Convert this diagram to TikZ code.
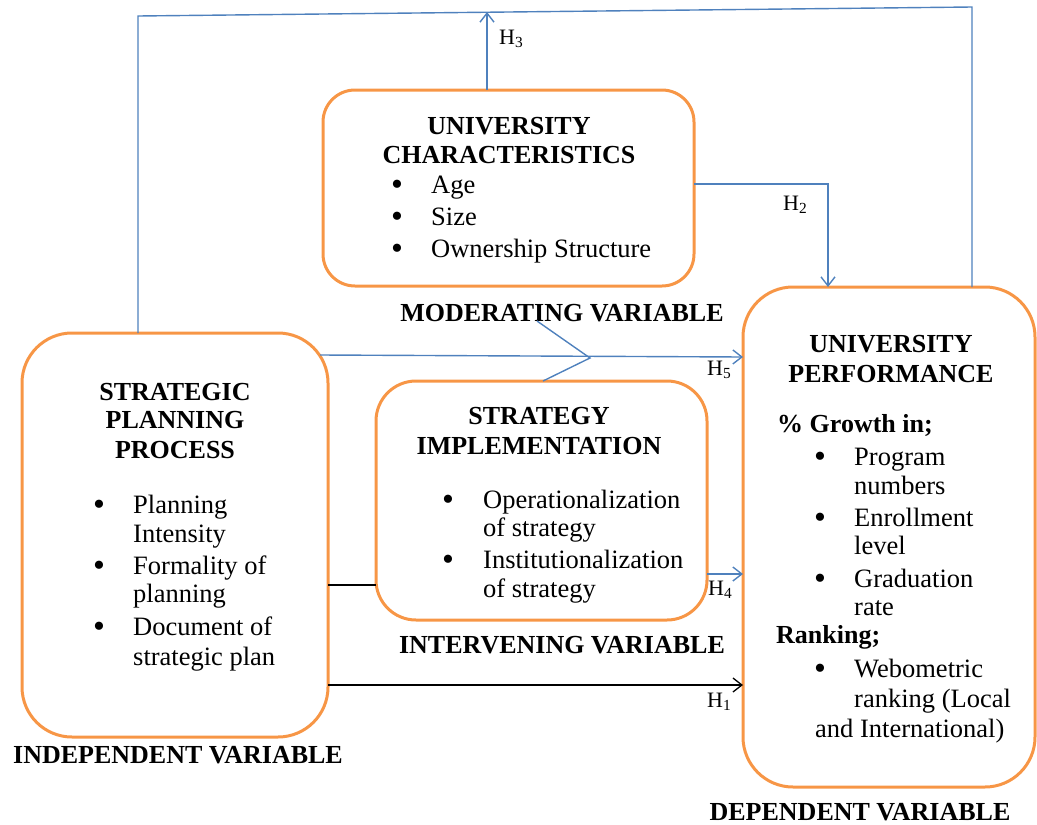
\documentclass[tikz,border=0pt]{standalone}
\usepackage{fontspec}
\setmainfont{Liberation Serif}
\usetikzlibrary{arrows.meta}
\definecolor{boxorange}{HTML}{F79646}
\definecolor{lineblue}{HTML}{4F81BD}
\begin{document}
\begin{tikzpicture}[x=1pt,y=-1pt,
  box/.style={draw=boxorange,line width=3pt,rounded corners=#1,inner sep=0,outer sep=0},
  txt/.style={inner sep=0,anchor=base west,font=\fontsize{26.5}{31}\selectfont},
  hd/.style={inner sep=0,anchor=base,font=\fontsize{26}{31}\selectfont\bfseries},
  hdl/.style={inner sep=0,anchor=base west,font=\fontsize{26}{31}\selectfont\bfseries},
  bul/.style={inner sep=0,anchor=base,font=\fontsize{34}{31}\selectfont},
  hyp/.style={inner sep=0,anchor=base west,font=\fontsize{22}{24}\selectfont},
  bl/.style={draw=lineblue,line width=1.4pt},
  bk/.style={draw=black,line width=1.3pt},
  tip/.style={-{Straight Barb[length=9pt,width=14pt]}}
]
\useasboundingbox (0,0) rectangle (1037,825);

% boxes
\node[box=32pt,minimum width=371pt,minimum height=196pt] (char) at (508.5,188) {};
\node[box=50pt,minimum width=306pt,minimum height=404pt] (spp) at (175,535) {};
\node[box=40pt,minimum width=331pt,minimum height=239pt] (strat) at (541.5,500.5) {};
\node[box=50pt,minimum width=292pt,minimum height=500pt] (perf) at (889,537) {};

% university characteristics
\node[hd] (c1) at (509,134) {UNIVERSITY};
\node[hd] (c2) at (509,163) {CHARACTERISTICS};
\node[bul] (cb1) at (397,195) {\textbullet};
\node[txt] (ct1) at (431,193) {Age};
\node[bul] (cb2) at (397,227) {\textbullet};
\node[txt] (ct2) at (431,225) {Size};
\node[bul] (cb3) at (397,259) {\textbullet};
\node[txt] (ct3) at (431,257) {Ownership Structure};
\node[hd] (mod) at (562,321) {MODERATING VARIABLE};

% strategic planning process
\node[hd] (s1) at (175,400) {STRATEGIC};
\node[hd] (s2) at (175,428) {PLANNING};
\node[hd] (s3) at (175,458) {PROCESS};
\node[bul] (sb1) at (99,515) {\textbullet};
\node[txt] (st1) at (133,513) {Planning};
\node[txt] (st2) at (133,542) {Intensity};
\node[bul] (sb2) at (99,576) {\textbullet};
\node[txt] (st3) at (133,574) {Formality of};
\node[txt] (st4) at (133,602) {planning};
\node[bul] (sb3) at (99,637) {\textbullet};
\node[txt] (st5) at (133,635) {Document of};
\node[txt] (st6) at (133,665) {strategic plan};
\node[hd] (ind) at (178,763) {INDEPENDENT VARIABLE};

% strategy implementation
\node[hd] (i1) at (539,424) {STRATEGY};
\node[hd] (i2) at (539,454) {IMPLEMENTATION};
\node[bul] (ib1) at (448,510) {\textbullet};
\node[txt] (it1) at (483,508) {Operationalization};
\node[txt] (it2) at (483,536) {of strategy};
\node[bul] (ib2) at (448,570) {\textbullet};
\node[txt] (it3) at (483,568) {Institutionalization};
\node[txt] (it4) at (483,597) {of strategy};
\node[hd] (intv) at (562,653) {INTERVENING VARIABLE};

% university performance
\node[hd] (p1) at (891,352) {UNIVERSITY};
\node[hd] (p2) at (891,382) {PERFORMANCE};
\node[hdl] (pg) at (777,432) {\% Growth in;};
\node[bul] (pb1) at (820,467) {\textbullet};
\node[txt] (pt1) at (854,465) {Program};
\node[txt] (pt2) at (854,494) {numbers};
\node[bul] (pb2) at (820,528) {\textbullet};
\node[txt] (pt3) at (854,526) {Enrollment};
\node[txt] (pt4) at (854,554) {level};
\node[bul] (pb3) at (820,589) {\textbullet};
\node[txt] (pt5) at (854,587) {Graduation};
\node[txt] (pt6) at (854,615) {rate};
\node[hdl] (pr) at (776,643) {Ranking;};
\node[bul] (pb4) at (820,679) {\textbullet};
\node[txt] (pt7) at (854,677) {Webometric};
\node[txt] (pt8) at (854,707) {ranking (Local};
\node[txt] (pt9) at (815,737) {and International)};
\node[hd] (dep) at (860,820) {DEPENDENT VARIABLE};

% connectors
\coordinate (loopL) at (138,16);
\coordinate (loopR) at (972,7);
\draw[bl] (spp.north -| loopL) -- (loopL) -- (loopR) -- (perf.north -| loopR);

\coordinate (h3top) at (487,12);
\draw[bl,tip] (char.north -| h3top) -- (h3top);
\node[hyp] (h3) at (499,44) {H\textsubscript{3}};

\coordinate (h2c) at (828,184);
\draw[bl,tip] (char.east |- h2c) -- (h2c) -- (perf.north -| h2c);
\node[hyp] (h2) at (783,210) {H\textsubscript{2}};

\coordinate (h5s) at (320,355);
\coordinate (h5e) at (742,357);
\draw[bl,tip] (h5s) -- (perf.west |- h5e);
\node[hyp] (h5) at (707,375) {H\textsubscript{5}};

\coordinate (chevA) at (537,321);
\coordinate (chev) at (590,358);
\coordinate (chevB) at (543,381);
\draw[bl] (chevA) -- (chev) -- (strat.north -| chevB);

\coordinate (h4k) at (0,585);
\draw[bk] (spp.east |- h4k) -- (strat.west |- h4k);
\coordinate (h4b) at (0,574);
\draw[bl,tip] (strat.east |- h4b) -- (perf.west |- h4b);
\node[hyp] (h4) at (708,595) {H\textsubscript{4}};

\coordinate (h1k) at (0,685);
\draw[bk,tip] (spp.east |- h1k) -- (perf.west |- h1k);
\node[hyp] (h1) at (707,707) {H\textsubscript{1}};
\end{tikzpicture}
\end{document}
